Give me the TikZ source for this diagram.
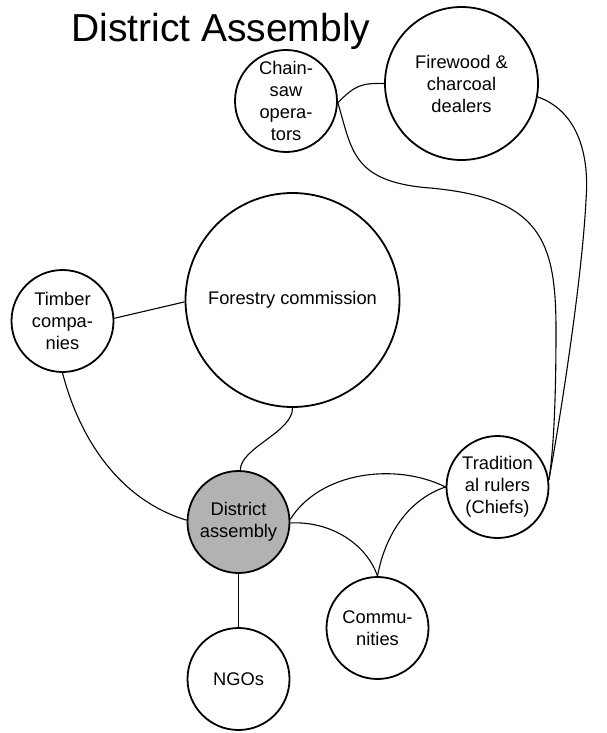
\documentclass[tikz,border=0pt]{standalone}
\usepackage{fontspec}
\setmainfont{Liberation Sans}
\definecolor{assemblygray}{RGB}{178,178,178}
\tikzset{
  actor/.style={circle, draw=black, line width=1.8pt, fill=white, minimum size=102pt,
    inner sep=0pt, align=center, font=\fontsize{18.3}{22}\selectfont},
  link/.style={line width=1.1pt, draw=black},
}
\begin{document}
\begin{tikzpicture}[x=1pt, y=-1pt]
\useasboundingbox (0,0) rectangle (606,733);

% title
\node[anchor=base west, inner sep=0pt, font=\fontsize{39}{45}\selectfont] (title) at (71,42) {District Assembly};

% actors
\node[actor] (cs) at (286,101) {Chain-\\saw\\opera-\\tors};
\node[actor, minimum size=153pt] (fw) at (461.5,83.5) {Firewood \&\\charcoal\\dealers};
\node[actor] (tc) at (62.5,321) {Timber\\compa-\\nies};
\node[actor, minimum size=214pt] (fc) at (292.5,300) {Forestry commission};
\node[actor, fill=assemblygray] (da) at (238.5,522) {District\\assembly};
\node[actor] (tr) at (497.5,487) {Tradition\\al rulers\\(Chiefs)};
\node[actor] (cm) at (377.5,628) {Commu-\\nities};
\node[actor] (ng) at (238.5,679) {NGOs};

% links
\draw[link] (cs.-2) .. controls (355,85) and (362,83) .. (fw.180);
\draw[link] (cs.-2) .. controls (352,150) and (352,182) .. (430,188)
  .. controls (540,198) and (556,240) .. (556,330)
  .. controls (556,420) and (552,460) .. (tr.8);
\draw[link] (fw.-10) .. controls (575,110) and (590,150) .. (586,200)
  .. controls (582,280) and (560,420) .. (tr.8);
\draw[link] (tc.3) -- (fc.181);
\draw[link] (tc.-90) .. controls (80,440) and (120,500) .. (da.178);
\draw[link] (fc.-90) .. controls (293,432) and (240,448) .. (da.88);
\draw[link] (da.3) .. controls (320,472) and (395,462) .. (tr.180);
\draw[link] (da.-1) .. controls (332,521) and (367,545) .. (cm.90);
\draw[link] (cm.90) .. controls (386,530) and (412,498) .. (tr.180);
\draw[link] (da.-90) -- (ng.90);
\end{tikzpicture}
\end{document}
